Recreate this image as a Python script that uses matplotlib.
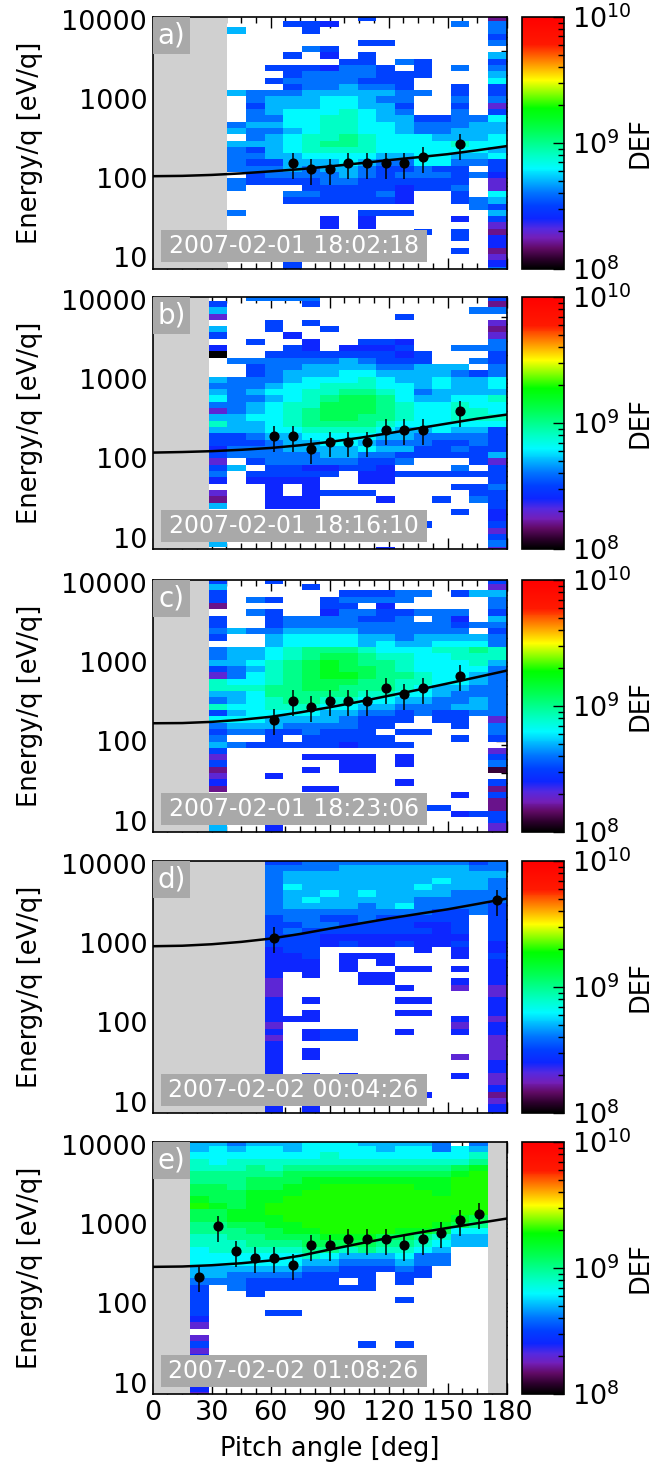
import numpy as np
import matplotlib
matplotlib.use("Agg")
import matplotlib.pyplot as plt
from matplotlib.colors import LinearSegmentedColormap, LogNorm
from matplotlib.cm import ScalarMappable
from matplotlib.patches import Rectangle
from matplotlib.ticker import MultipleLocator, LogLocator, NullFormatter

plt.rcParams["font.family"] = "DejaVu Sans"

# ---- data ----
tags = ["a)", "b)", "c)", "d)", "e)"]
stamps = ["2007-02-01 18:02:18", "2007-02-01 18:16:10", "2007-02-01 18:23:06",
          "2007-02-02 00:04:26", "2007-02-02 01:08:26"]

n_pa = 19          # pitch angle bins, 0..180 deg
n_en = 41          # energy rows (top row first in the tables below)
log_e_top = 4.0645
log_e_step = 0.0795

# DEF level codes: '.' = no counts, 'A'..'U' = log10(DEF) 8.0..10.0 in 0.1 steps
a_first = 4
a_rows = [
    ".......F......C", "...FFE......G.G", "H...F.........G", "..............F",
    ".......FF.....G", "....GF.........", "...F.E.F......H", "......FF.GF...F",
    "..FFFEGGF.F.G.G", "...FGGGGFFF...H", "..FGGGGFFF....I", "...FGGHGGF..F.F",
    "HGGGHHHHHGG.F.F", ".GHHHIIHGG..G.G", ".FHHHIIHHF..F.D", ".GHIIIJIHG..G.F",
    ".GGIIJJIHHFFGGI", "GHHIIJJIIHGGGHH", "HGGHIJJIIHGGHHH", ".GHIJJKJIIIHHHI",
    "HHHIJKKJIIIIJII", "GFHIJJJJIIIIIIH", "GGHHIIIIHHIIHHI", "GFFHHHIHGGIIGGF",
    "GGGHGHHGFFGFF.F", ".FGGGGHGFGGGFGE", "GFFFFGGFFFFFF.D", "G...FFFFFEFFG.D",
    "...GGFFFGE..F.I", "...FFFFFFE..FGH", ".............GF", "G......FFF....H",
    ".....E.E....E.F", ".....E.E......D", "..........F.F.C", "............F.E",
    "..............E", "............F.C", "..............D", "...F..........E",
    "...F..........G",
]
b_first = 3
b_rows = [
    "..GGGG.........F", "F....F.........C", "H.............GG", "D.........F.....",
    "...F.F.........D", "H..F..F........C", "F...E..........D", "..F..E..FFE....G",
    "E...FE.EEEF..GGG", "A..FFFFFFFEF...F", ".GGGGGGHGFFF..GF", "..FGGHHHHGGHHH.G",
    "..FGHHHIIHHHHGFG", "HGGGHIIIJIHHIHHI", "GGGHIIJJJIIHIHHI", "HGHIIJJKKJIGHHHH",
    "IGGHIJKLLKIHHIIJ", "GGHIJJLLLKJIIJII", "DGHIJKLLLKJIIJJI", "HHIIJKLLKKJIIJJJ",
    "JHHIJKKKKJIIIIII", "HHHIIJJJJIHHIHHF", "FFGHHIIIIHHGGGGF", "FFFGHHIIHGGGFFGF",
    "EGGGHHHHIHHFFGFF", "FGGGGGHHGGFFFFFH", "D.FGGGGGFFG...FD", "FH.FFEEFFE...G.F",
    "G.FFFFF.EEFFFFFF", "E.EEEE..EE.....F", "...E.E.......FFG", "D..E.EFFF.....FF",
    "C..EEE...E..F.GF", "H..EEE.........F", ".............F.E", "...............E",
    "...........F...F", "...............D", "...............F", "H..............G",
    ".........E.....D",
]
c_first = 3
c_rows = [
    "F..F...........F", "H....F.........D", "F......FFFGG.FHH", "F.GF..FGGGG....G",
    "C.....FF.E.....G", "..GF..EGGFFGGG.F", "F..FGGGGFFG.GE.H", "F..FGGGGGGGGGFGG",
    "GHGGHHHHGGGGGG.F", "F..HIIIIHHGHHHHG", "...HIIIIHIHHIIIG", "GHHIJKKKJIIIJJKJ",
    "GHHIJKLLKJJIIJJJ", "HHIJKLMLKKJIIIJH", "FGHJKLMLLKJIIIIG", "DGIJKLMMLKKJIIHG",
    "JIIJKLLLKKJJIIHG", "JJJKKLLKKKJIHHGG", "HHIKKKKKJJIIHGGG", "GHIJKKJJIIHHGGHG",
    "JIIJJJIIHHGGGHHG", "FHIIIIHHGGFGFFGG", "IIIHHHHGFFF.FF.D", "GHHHGGGGFF...F.G",
    "FGGFFGFFF.FF...G", "G..F.FFFFF...F.F", "HGFFFFFEFFF.....", "F..............D",
    "D....EEEE.E....F", "F......EE.E....G", "C....E.EE......B", "D..E............",
    "E.........E....F", "C....EE........C", ".............E.F", "...............C",
    "...........FF..C", ".............EFF", "...............F", "H..E...........D",
    "H..E...........D",
]
d_first = 6
d_rows = [
    "FFGGGGGGGGGFG", "GGGGHHHHHHHGG", "GHHHHHHHHHHHH", "GHHHHHHHHIHHG",
    "GIHHHHHHIHHHG", "GHHIHIHHHHGGG", "GHIHHHHHGGGGG", "GHHHHGHIGGGGF",
    "GGGGGGGGGFFGF", "FGGFFGFFFFF.F", "FFGGFFFFEEF.F", "FGFFFFFFFEF.F",
    "FFFEEEEEEEE.F", "FFFEFEEFEEF.E", "EFF.....E.E.E", "EEF.EEE...E.F",
    "EEE.E.E.....E", "EEE.E..EE.E.E", "E.E..EE.....E", "D....EE...E.E",
    "D......E..D.D", "D...........D", "E.E....EE...E", "E...........E",
    "E.E....EE...E", "EEE.......E.D", "D.........D.E", "E.EFF..E..E.E",
    "D.EFF.......D", "E...........D", "E.E.........D", "E.E.......D.D",
    "E...........E", "E...........E", "E.E.E.....E.D", "E......E....D",
    "E...........E", "E.......E...C", "E...........D", "E.E.........E",
    "E.E.........E",
]
e_first = 2
e_rows = [
    "HHGHHHIIIHHHHG.G", "HIHIIHIIIIHIIGIH", "IIIIIIIJIIIIIIIJ", "JIJJJJJJJJJJJJJK",
    "JJJKJKKKKKKKKKLM", "KKKKKLLLLLLLLLMN", "KKKLLLMMMMMMMMNN", "LLKLLMMNNNNNMMNN",
    "LLLMMMNNNNNNNMNN", "MLLMMNNNNNNNNNNN", "NMLMNNNNNNNNNNNN", "LLMMNNNNNNNNNNNN",
    "LLMMMNNNNNNNNNML", "KKLLMMNNNNNNNMLK", "KKKLLMMNNNNMMLII", "JJKKLLLMMMLLKJHH",
    "JJJKKKLLLLKKJIHH", "IJJJJJKKJKJJIH..", "IIIIIIJIHHHIGG..", "IIIIIIHHGGGHGG..",
    "HHHHHHGGFFFGF...", "HHGGGGFFFF.FF...", "GGGFFFFF.F.F....", "F.GFFFFFFF......",
    "F..F............", "F..........F....", "F...............", "F...FF..........",
    "E...............", "D...............", "................", "D...............",
    "F........F.F....", "D...............", "E...............", "D...............",
    "E...............", "D...............", "E...............", "E...............",
    "D...............",
]
grid_rows = [a_rows, b_rows, c_rows, d_rows, e_rows]
first_bins = [a_first, b_first, c_first, d_first, e_first]
gray_bins = [[(0, 4)], [(0, 3)], [(0, 3)], [(0, 6)], [(0, 2), (18, 19)]]

# moment points (pitch angle, energy) and relative error bar size
a_pa = [71.1, 80.5, 90.0, 99.5, 108.9, 118.4, 127.9, 137.4, 156.3]
a_en = [154, 129, 129, 154, 154, 154, 154, 183, 267]
b_pa = [61.6, 71.1, 80.5, 90.0, 99.5, 108.9, 118.4, 127.9, 137.4, 156.3]
b_en = [190, 190, 131, 160, 160, 160, 228, 228, 228, 393]
c_pa = [61.6, 71.1, 80.5, 90.0, 99.5, 108.9, 118.4, 127.9, 137.4, 156.3]
c_en = [186, 326, 272, 326, 326, 326, 467, 393, 467, 674]
d_pa = [61.6, 175.3]
d_en = [1159, 3467]
e_pa = [23.7, 33.2, 42.6, 52.1, 61.6, 71.1, 80.5, 90.0, 99.5, 108.9, 118.4,
        127.9, 137.4, 146.8, 156.3, 165.8]
e_en = [215, 938, 454, 374, 374, 308, 536, 536, 643, 643, 643, 536, 643, 772,
        1117, 1356]
rel_err = 0.36
pts_pa = [a_pa, b_pa, c_pa, d_pa, e_pa]
pts_en = [a_en, b_en, c_en, d_en, e_en]

# fitted curves read at every 15 deg
fit_pa = [0, 15, 30, 45, 60, 75, 90, 105, 120, 135, 150, 165, 180]
fit_a = [106, 107, 110, 115, 122, 130, 141, 154, 169, 184, 201, 225, 254]
fit_b = [118, 120, 123, 128, 135, 146, 161, 181, 207, 239, 275, 316, 356]
fit_c = [169, 170, 176, 187, 204, 232, 269, 316, 376, 447, 537, 646, 780]
fit_d = [912, 925, 966, 1035, 1138, 1303, 1521, 1758, 2037, 2333, 2667, 3112, 3639]
fit_e = [288, 291, 302, 320, 347, 398, 476, 565, 668, 776, 893, 1023, 1172]
fits = [fit_a, fit_b, fit_c, fit_d, fit_e]

# ---- colour table ----
nodes = [
    (0.00, (0.00, 0.00, 0.00)), (0.04, (0.18, 0.00, 0.18)),
    (0.08, (0.38, 0.04, 0.40)), (0.12, (0.45, 0.12, 0.72)),
    (0.16, (0.33, 0.16, 0.88)), (0.20, (0.05, 0.15, 1.00)),
    (0.25, (0.00, 0.25, 1.00)), (0.30, (0.00, 0.45, 1.00)),
    (0.35, (0.00, 0.72, 1.00)), (0.40, (0.00, 0.98, 1.00)),
    (0.45, (0.00, 1.00, 0.78)), (0.50, (0.00, 1.00, 0.55)),
    (0.55, (0.00, 1.00, 0.32)), (0.60, (0.00, 1.00, 0.12)),
    (0.64, (0.00, 1.00, 0.00)), (0.70, (0.55, 1.00, 0.00)),
    (0.75, (1.00, 1.00, 0.00)), (0.82, (1.00, 0.55, 0.00)),
    (0.89, (1.00, 0.10, 0.00)), (1.00, (1.00, 0.00, 0.00)),
]
cmap = LinearSegmentedColormap.from_list("def", nodes)
cmap.set_bad((0, 0, 0, 0))
norm = LogNorm(1e8, 1e10)

pa_edges = np.linspace(0, 180, n_pa + 1)
en_edges = 10 ** (log_e_top - log_e_step * np.arange(n_en + 1))[::-1]


def decode(rows, first):
    out = np.full((n_en, n_pa), np.nan)
    for i, r in enumerate(rows):
        full = ("." * first + r).ljust(n_pa, ".")[:n_pa]
        for j, ch in enumerate(full):
            if ch != ".":
                out[i, j] = 10 ** (8 + 0.1 * (ord(ch) - ord("A")))
    return out[::-1]


fig = plt.figure(figsize=(6.54, 14.68), dpi=100)
ax_left, ax_w = 0.2335, 0.5413
cb_left, cb_w = 0.7977, 0.0647
ax_h = 252 / 1468
bottoms = [0.8168, 0.6260, 0.4332, 0.2418, 0.0504]
fs = 18.5
tfs = 19.5

for k in range(5):
    ax = fig.add_axes([ax_left, bottoms[k], ax_w, ax_h])
    ax.set_axisbelow(True)
    z = np.ma.masked_invalid(decode(grid_rows[k], first_bins[k]))
    ax.pcolormesh(pa_edges, en_edges, z, cmap=cmap, norm=norm, zorder=1)
    for lo, hi in gray_bins[k]:
        ax.axvspan(pa_edges[lo], pa_edges[hi], color="#d0d0d0", lw=0, zorder=1.5)

    ax.plot(fit_pa, fits[k], color="k", lw=1.8, zorder=3)
    en = np.array(pts_en[k], dtype=float)
    ax.errorbar(pts_pa[k], en, yerr=rel_err * en, fmt="o", color="k", ms=6.3,
                elinewidth=1.1, capsize=0, zorder=4)

    ax.set_xlim(0, 180)
    ax.set_yscale("log")
    ax.set_ylim(7.16, 10840)
    ax.set_yticks([10, 100, 1000, 10000])
    ax.set_yticklabels(["10", "100", "1000", "10000"])
    ax.yaxis.set_minor_locator(LogLocator(base=10, subs=np.arange(2, 10)))
    ax.yaxis.set_minor_formatter(NullFormatter())
    ax.set_xticks(np.arange(0, 181, 30))
    ax.xaxis.set_minor_locator(MultipleLocator(7.5))
    ax.tick_params(which="both", direction="in", top=True, right=True,
                   labelsize=tfs, pad=4)
    ax.tick_params(which="major", length=8, width=1)
    ax.tick_params(which="minor", length=4, width=1)
    for s in ax.spines.values():
        s.set_linewidth(1.2)
    if k < 4:
        ax.tick_params(labelbottom=False)
    else:
        ax.set_xlabel("Pitch angle [deg]", fontsize=fs)
        ax.xaxis.set_label_coords(0.5, -0.165)
    ax.set_ylabel("Energy/q [eV/q]", fontsize=fs)
    ax.yaxis.set_label_coords(-0.31, 0.5)

    ax.add_patch(Rectangle((0, 0.852), 0.105, 0.148, transform=ax.transAxes,
                           fc="#a9a9a9", ec="none", zorder=5))
    ax.text(0.0527, 0.926, tags[k], transform=ax.transAxes, color="white",
            fontsize=20, ha="center", va="center", zorder=6)
    ax.add_patch(Rectangle((0.0226, 0.028), 0.751, 0.126, transform=ax.transAxes,
                           fc="#a9a9a9", ec="none", zorder=5))
    ax.text(0.398, 0.091, stamps[k], transform=ax.transAxes, color="white",
            fontsize=17, ha="center", va="center", zorder=6)

    cax = fig.add_axes([cb_left, bottoms[k], cb_w, ax_h])
    cb = fig.colorbar(ScalarMappable(norm=norm, cmap=cmap), cax=cax)
    cb.ax.yaxis.set_minor_locator(LogLocator(base=10, subs=np.arange(2, 10)))
    cb.ax.tick_params(which="both", direction="in", labelsize=tfs, pad=6)
    cb.ax.tick_params(which="major", length=8, width=1)
    cb.ax.tick_params(which="minor", length=4, width=1)
    cb.outline.set_linewidth(1.2)
    fig.text(640 / 654, bottoms[k] + ax_h / 2, "DEF", rotation=90,
             ha="center", va="center", fontsize=fs)

fig.savefig("out.png", dpi=100)
